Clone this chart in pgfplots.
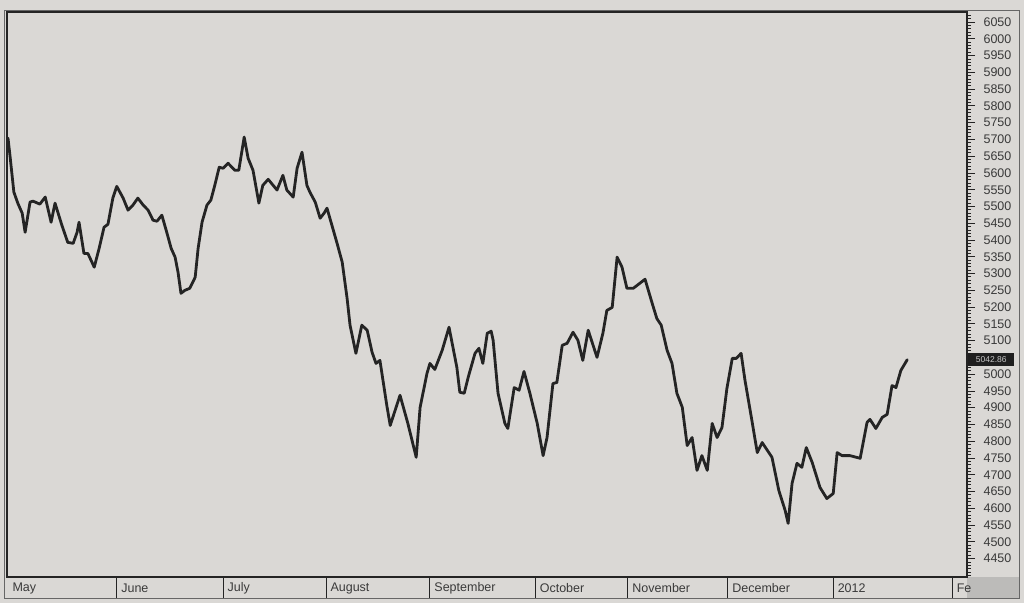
\documentclass[border=0pt]{standalone}
\usepackage{fontspec}
\setmainfont{Liberation Sans}
\usepackage{pgfplots}
\usepackage{pgfplotstable}
\pgfplotsset{compat=1.18}
\definecolor{paper}{RGB}{218,216,213}
\definecolor{strip}{RGB}{188,187,185}
\definecolor{ink}{RGB}{36,36,36}
\definecolor{labelgray}{RGB}{58,58,58}

% trading day (0 = start of May), index level
\pgfplotstableread{
d v
0 5704
0.4 5653
1.2 5543
2.0 5510
2.9 5480
3.5 5423
4.5 5513
5.1 5516
6.5 5507
7.6 5528
8.8 5453
9.6 5510
11.0 5444
12.2 5393
13.3 5390
14.1 5423
14.5 5453
15.5 5360
16.3 5360
17.6 5319
18.6 5375
19.6 5438
20.4 5447
21.4 5525
22.2 5560
23.5 5525
24.5 5489
25.5 5504
26.5 5525
27.6 5504
28.6 5489
29.6 5459
30.4 5456
31.4 5474
32.4 5423
33.3 5375
34.1 5349
34.7 5304
35.3 5241
36.1 5250
37.1 5256
38.2 5289
38.8 5375
39.6 5453
40.6 5504
41.4 5519
42.2 5563
43.1 5617
43.9 5614
44.9 5629
46.3 5608
47.1 5608
48.2 5707
49.0 5644
50.0 5608
51.2 5510
52.0 5563
53.1 5581
54.9 5549
56.1 5593
56.9 5549
58.2 5528
59.0 5614
60.0 5662
61.0 5563
61.6 5543
62.7 5513
63.7 5465
64.5 5480
65.1 5495
66.1 5444
67.1 5393
68.2 5334
69.2 5226
69.8 5146
71.0 5062
72.2 5146
73.3 5131
74.3 5065
75.1 5032
75.9 5041
77.3 4907
78.0 4847
80.0 4937
81.6 4853
83.3 4752
84.1 4901
85.5 5002
86.1 5032
87.1 5014
88.6 5071
90.0 5140
91.6 5020
92.2 4946
93.1 4943
93.9 4990
95.3 5062
96.1 5077
96.9 5032
97.8 5122
98.6 5128
99.0 5101
100.0 4943
101.4 4853
102.0 4838
103.3 4960
104.3 4952
105.3 5008
106.5 4943
108.0 4853
109.2 4757
110.0 4811
111.2 4972
112.0 4975
113.1 5086
114.1 5092
115.3 5125
116.3 5101
117.3 5041
118.4 5131
120.2 5050
121.4 5122
122.2 5190
123.3 5199
124.3 5349
125.3 5319
126.3 5256
127.6 5256
130.0 5283
131.4 5214
132.4 5166
133.3 5146
134.5 5071
135.5 5032
136.5 4943
137.6 4901
138.6 4787
139.6 4811
140.6 4713
141.6 4757
142.7 4713
143.7 4853
144.7 4811
145.7 4841
146.7 4957
147.8 5047
148.6 5047
149.6 5062
150.4 4981
151.8 4862
152.9 4766
153.9 4796
155.9 4752
157.3 4653
158.6 4593
159.2 4555
160.0 4674
161.0 4734
162.0 4722
162.9 4781
164.1 4737
165.7 4662
167.1 4629
168.4 4644
169.2 4766
170.2 4757
171.8 4757
173.9 4749
175.3 4856
175.9 4865
177.1 4838
178.4 4871
179.4 4880
180.4 4966
181.2 4960
182.2 5011
183.5 5043
}\index

\begin{document}
\begin{tikzpicture}[x=1pt,y=1pt]
\fill[paper] (0,0) rectangle (1024,603);
\fill[strip] (967,5) rectangle (1019,26);
\draw[ink!70, line width=1pt] (4,5) rectangle (1019,592);
\begin{axis}[
  at={(7pt,26pt)}, anchor=south west,
  scale only axis, width=960pt, height=565pt,
  xmin=-0.2, xmax=195.7, ymin=4395, ymax=6080,
  clip mode=individual,
  axis line style={ink, line width=1.1pt},
  tick align=outside,
  major tick length=8pt, minor tick length=4pt,
  every tick/.style={ink, line width=0.8pt},
  xtick pos=lower, ytick pos=upper,
  xticklabel pos=lower, yticklabel pos=upper,
  xtick={0,22.2,43.9,64.9,86.1,107.6,126.5,146.9,168.4,192.7},
  xticklabels={May,June,July,August,September,October,November,December,2012,Fe},
  xtick style={draw=none},
  minor xtick={5,10,...,195},
  x tick label style={anchor=west, xshift=1pt, yshift=-3pt,
    font=\fontsize{12.5}{14}\selectfont, text=labelgray},
  ytick={4450,4500,...,5000,5100,5150,...,6050},
  minor ytick={4400,4410,...,6070},
  y tick label style={font=\fontsize{12.5}{14}\selectfont, text=labelgray, xshift=5pt},
  /pgf/number format/.cd, set thousands separator={}, assume math mode=true,
]
\addplot[ink, line width=2.8pt, line join=round, line cap=round] table[x=d, y=v] {\index};
\pgfplotsinvokeforeach{22.2,43.9,64.9,86.1,107.6,126.5,146.9,168.4,192.7}{
  \draw[ink, line width=0.9pt] (axis cs:#1,4395) -- ++(0pt,-21pt);
}
\node[fill=black!88, text=white!78!black, anchor=west, inner sep=1pt,
  minimum width=46pt, minimum height=13pt,
  font=\fontsize{8.5}{9}\selectfont, xshift=1pt]
  at (axis cs:195.7,5042.86) {5042.86};
\end{axis}
\end{tikzpicture}
\end{document}
